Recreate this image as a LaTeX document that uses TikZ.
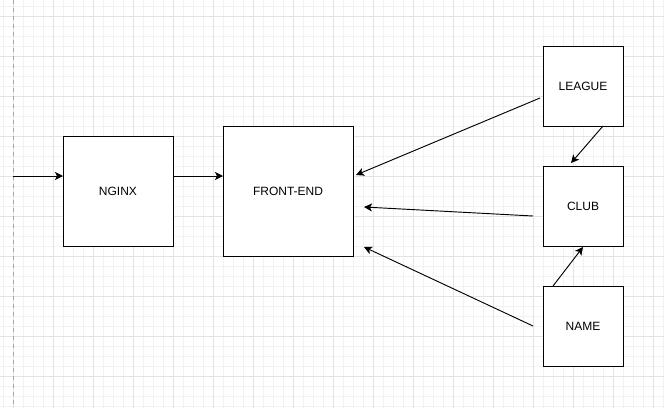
\documentclass[tikz,border=0pt]{standalone}
\usepackage{fontspec}
\setmainfont{Liberation Sans}
\usetikzlibrary{arrows.meta,positioning,calc}

\begin{document}
\begin{tikzpicture}[
    x=0.75pt, y=-0.75pt,
    box/.style={rectangle, draw, line width=0.65pt, fill=white, align=center, inner sep=0pt, outer sep=0pt, font=\fontsize{9}{11}\selectfont},
    arrow/.style={-{Stealth[length=6pt, width=6pt, inset=1.5pt]}, line width=0.7pt},
    minorgrid/.style={black!5, line width=0.5pt},
    majorgrid/.style={black!11, line width=0.75pt}
]
\useasboundingbox[fill=white] (0,0) rectangle (664,408);

% Grid
\foreach \gx in {3,13,...,663} \draw[minorgrid] (\gx,0) -- (\gx,408);
\foreach \gy in {6,16,...,406} \draw[minorgrid] (0,\gy) -- (664,\gy);
\foreach \gx in {13,53,...,653} \draw[majorgrid] (\gx,0) -- (\gx,408);
\foreach \gy in {16,56,...,376} \draw[majorgrid] (0,\gy) -- (664,\gy);

% Page border
\draw[black!35, dashed, line width=0.75pt] (13,0) -- (13,408);

% Proxy
\node[box, minimum size=82.5pt] (nginx) at (118,191) {NGINX};

% Front end
\node[box, minimum size=97.5pt, right=37.5pt of nginx] (frontend) {FRONT-END};

% Services
\node[box, minimum size=60pt] (league) at (583,86) {LEAGUE};
\node[box, minimum size=60pt, below=30pt of league] (club) {CLUB};
\node[box, minimum size=60pt, below=30pt of club] (name) {NAME};

% Arrows
\coordinate (entry) at (13,176);
\draw[arrow] (entry) -- (entry -| nginx.west);
\draw[arrow] (entry -| nginx.east) -- (entry -| frontend.west);
\draw[arrow] ([shift={(-3,12)}]league.west) -- ([shift={(3,-16)}]frontend.east);
\draw[arrow] ([shift={(-10,10)}]club.west) -- ([shift={(11,16)}]frontend.east);
\draw[arrow] ([shift={(-10,0)}]name.west) -- ([shift={(11,56)}]frontend.east);
\draw[arrow] ([shift={(20,0)}]league.south) -- ([shift={(-12,-3)}]club.north);
\draw[arrow] ([shift={(-30,0)}]name.north) -- ([shift={(0,1)}]club.south);

\end{tikzpicture}
\end{document}
